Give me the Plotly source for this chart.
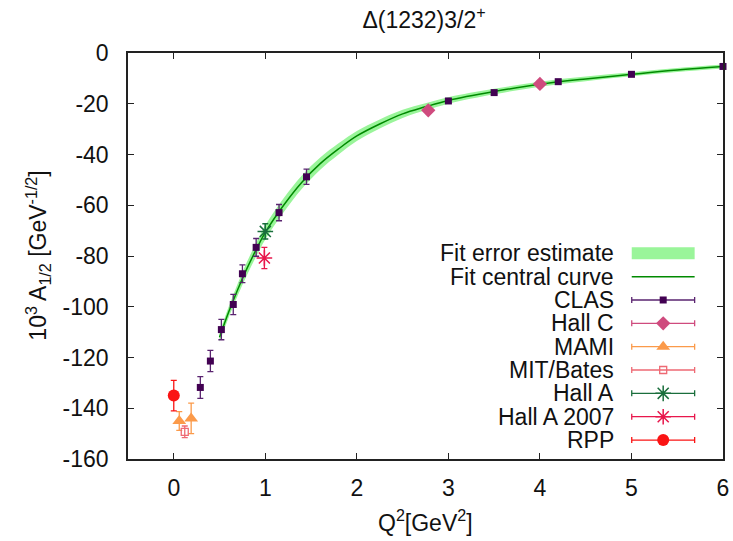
import plotly.graph_objects as go

# ── Values ────────────────────────────────────
fit_q2      = [0.5, 0.6, 0.7, 0.8, 0.9, 1.0, 1.2, 1.4, 1.6, 1.8, 2.0, 2.25,
               2.5, 2.75, 3.0, 3.5, 4.0, 4.5, 5.0, 5.5, 6.0]
fit_central = [-112, -102.1, -93.1, -84.9, -77.5, -70.7, -60.0, -50.9, -43.6, -37.8,
               -32.7, -28.0, -24.0, -21.2, -18.7, -15.2, -12.3, -10.2, -8.4, -6.7, -5.35]
fit_err     = [1.8, 2.1, 2.4, 2.6, 2.7, 2.8, 2.8, 2.6, 2.4, 2.2, 2.0, 1.8,
               1.6, 1.4, 1.3, 1.1, 1.0, 0.9, 0.8, 0.8, 0.8]

clas_q2  = [0.29, 0.40, 0.52, 0.65, 0.75, 0.90, 1.15, 1.45, 3.0, 3.5, 4.2, 5.0, 6.0]
clas_a   = [-131.8, -121.4, -109, -99.1, -87, -76.6, -62.9, -48.8,
            -18.9, -15.6, -11.3, -8.4, -5.3]
clas_err = [4.3, 4.2, 4.0, 4.0, 3.5, 3.5, 3.2, 3.0, 0.8, 0.7, 0.6, 0.6, 0.6]

hallc_q2  = [2.78, 4.0]
hallc_a   = [-22.6, -12.2]
hallc_err = [1.0, 1.0]

mami_q2  = [0.06, 0.19]
mami_a   = [-145.0, -144.0]
mami_err = [3.7, 6.0]

mit_q2  = [0.12]
mit_a   = [-149.3]
mit_err = [2.3]

halla_q2  = [1.0]
halla_a   = [-70.3]
halla_err = [3.0]

halla07_q2  = [0.99]
halla07_a   = [-80.8]
halla07_err = [4.2]

rpp_q2  = [0.0]
rpp_a   = [-135.0]
rpp_err = [6.0]

x_ticks = [0, 1, 2, 3, 4, 5, 6]
y_ticks = [0, -20, -40, -60, -80, -100, -120, -140, -160]
y_tick_labels = ["0", "-20", "-40", "-60", "-80", "-100", "-120", "-140", "-160"]

legend_labels = ["Fit error estimate", "Fit central curve", "CLAS", "Hall C",
                 "MAMI", "MIT/Bates", "Hall A", "Hall A 2007", "RPP"]

# ── Colours ───────────────────────────────────
C_BAND   = "#9af59a"
C_FIT    = "#008a00"
C_CLAS   = "#420152"
C_CLAS_E = "#5a2470"
C_HALLC  = "#cf4b7e"
C_MAMI   = "#fb9a4a"
C_MIT    = "#ee6a74"
C_HALLA  = "#1a6e3c"
C_HA07   = "#e8174c"
C_RPP    = "#fa1414"
C_TEXT   = "#111111"
FONT     = "Liberation Sans, Arial, sans-serif"
FS       = 23

# plot-area geometry (px) used for the hand-made gnuplot style key
W, H = 733, 541
L, R, T, B = 127.5, 9.6, 52.5, 81.5
PW, PH = W - L - R, H - T - B


def px_x(px):
    return (px - L) / PW


def px_y(py):
    return 1 - (py - T) / PH


fig = go.Figure()

# ── Fit band + central curve ──
upper = [c + e for c, e in zip(fit_central, fit_err)]
lower = [c - e for c, e in zip(fit_central, fit_err)]
fig.add_trace(go.Scatter(x=fit_q2, y=upper, mode="lines",
                         line=dict(width=0, shape="spline", color=C_BAND),
                         showlegend=False, hoverinfo="skip"))
fig.add_trace(go.Scatter(x=fit_q2, y=lower, mode="lines", fill="tonexty",
                         fillcolor=C_BAND,
                         line=dict(width=0, shape="spline", color=C_BAND),
                         showlegend=False, hoverinfo="skip"))
fig.add_trace(go.Scatter(x=fit_q2, y=fit_central, mode="lines",
                         line=dict(color=C_FIT, width=1.5, shape="spline"),
                         showlegend=False))

# ── Data sets ──
series = [
    (clas_q2, clas_a, clas_err, C_CLAS_E,
     dict(symbol="square", size=7, color=C_CLAS)),
    (hallc_q2, hallc_a, hallc_err, C_HALLC,
     dict(symbol="diamond", size=11, color=C_HALLC)),
    (mami_q2, mami_a, mami_err, C_MAMI,
     dict(symbol="triangle-up", size=12, color=C_MAMI)),
    (mit_q2, mit_a, mit_err, C_MIT,
     dict(symbol="square-open", size=7, color=C_MIT, line=dict(width=1.3, color=C_MIT))),
    (halla_q2, halla_a, halla_err, C_HALLA,
     dict(symbol="asterisk-open", size=13, color=C_HALLA, line=dict(width=1.5, color=C_HALLA))),
    (halla07_q2, halla07_a, halla07_err, C_HA07,
     dict(symbol="asterisk-open", size=13, color=C_HA07, line=dict(width=1.5, color=C_HA07))),
    (rpp_q2, rpp_a, rpp_err, C_RPP,
     dict(symbol="circle", size=12, color=C_RPP)),
]

for q2, a, err, ecol, marker in series:
    fig.add_trace(go.Scatter(
        x=q2, y=a, mode="markers", marker=marker,
        error_y=dict(type="data", array=err, color=ecol, thickness=1.3, width=3),
        cliponaxis=False, showlegend=False,
    ))

# ── Key (text left, sample right, like gnuplot) ──
key_top, key_step = 253.3, 23.4
key_text_x = px_x(616)
key_x0, key_x1 = px_x(632), px_x(695)
key_mid = (key_x0 + key_x1) / 2

for i, label in enumerate(legend_labels):
    fig.add_annotation(text=label, xref="paper", yref="paper",
                       x=key_text_x, y=px_y(key_top + i * key_step),
                       xanchor="right", yanchor="middle", showarrow=False,
                       font=dict(family=FONT, size=FS, color=C_TEXT))

fig.add_shape(type="rect", xref="paper", yref="paper",
              x0=key_x0, x1=key_x1,
              y0=px_y(key_top + 6), y1=px_y(key_top - 6),
              fillcolor=C_BAND, line_width=0)
fig.add_shape(type="line", xref="paper", yref="paper",
              x0=key_x0, x1=key_x1,
              y0=px_y(key_top + key_step), y1=px_y(key_top + key_step),
              line=dict(color=C_FIT, width=1.5))

for i, (q2, a, err, ecol, marker) in enumerate(series):
    fig.add_trace(go.Scatter(
        x=[key_mid], y=[px_y(key_top + (i + 2) * key_step)],
        xaxis="x2", yaxis="y2", mode="markers", marker=marker,
        error_x=dict(type="data", array=[key_mid - key_x0], color=ecol,
                     thickness=1.3, width=3),
        showlegend=False, hoverinfo="skip",
    ))

# ── Layout ──
axis_common = dict(showline=True, linecolor="#222222", linewidth=1.5,
                   mirror="ticks", ticks="inside", ticklen=6, tickwidth=1.2,
                   tickcolor="#222222", showgrid=False, zeroline=False,
                   automargin=False,
                   tickfont=dict(family=FONT, size=FS, color=C_TEXT))

fig.update_layout(
    width=W, height=H,
    paper_bgcolor="white", plot_bgcolor="white",
    margin=dict(l=L, r=R, t=T, b=B),
    font=dict(family=FONT, size=FS, color=C_TEXT),
    showlegend=False,
    title=dict(text="Δ(1232)3/2<sup>+</sup>", x=px_x(424), xref="paper",
               y=1 - 20 / H, yanchor="middle", xanchor="center",
               font=dict(family=FONT, size=FS, color=C_TEXT)),
    xaxis=dict(range=[-0.5, 6], tickvals=x_ticks, ticklabelstandoff=8,
               **axis_common),
    yaxis=dict(range=[-160, 0], tickvals=y_ticks, ticktext=y_tick_labels,
               ticklabelstandoff=13, **axis_common),
    xaxis2=dict(overlaying="x", range=[0, 1], visible=False),
    yaxis2=dict(overlaying="y", range=[0, 1], visible=False),
)

fig.add_annotation(text="Q<sup>2</sup>[GeV<sup>2</sup>]", xref="paper", yref="paper",
                   x=0.5, y=px_y(522), xanchor="center", yanchor="middle",
                   showarrow=False, font=dict(family=FONT, size=FS, color=C_TEXT))
fig.add_annotation(text="10<sup>3</sup> A<sub>1/2</sub> [GeV<sup>-1/2</sup>]",
                   xref="paper", yref="paper", x=px_x(37), y=0.5,
                   xanchor="center", yanchor="middle", textangle=-90,
                   showarrow=False, font=dict(family=FONT, size=FS, color=C_TEXT))

fig.write_html("out.html", config={"displayModeBar": False},
               post_script="document.body.style.margin='0px';")
